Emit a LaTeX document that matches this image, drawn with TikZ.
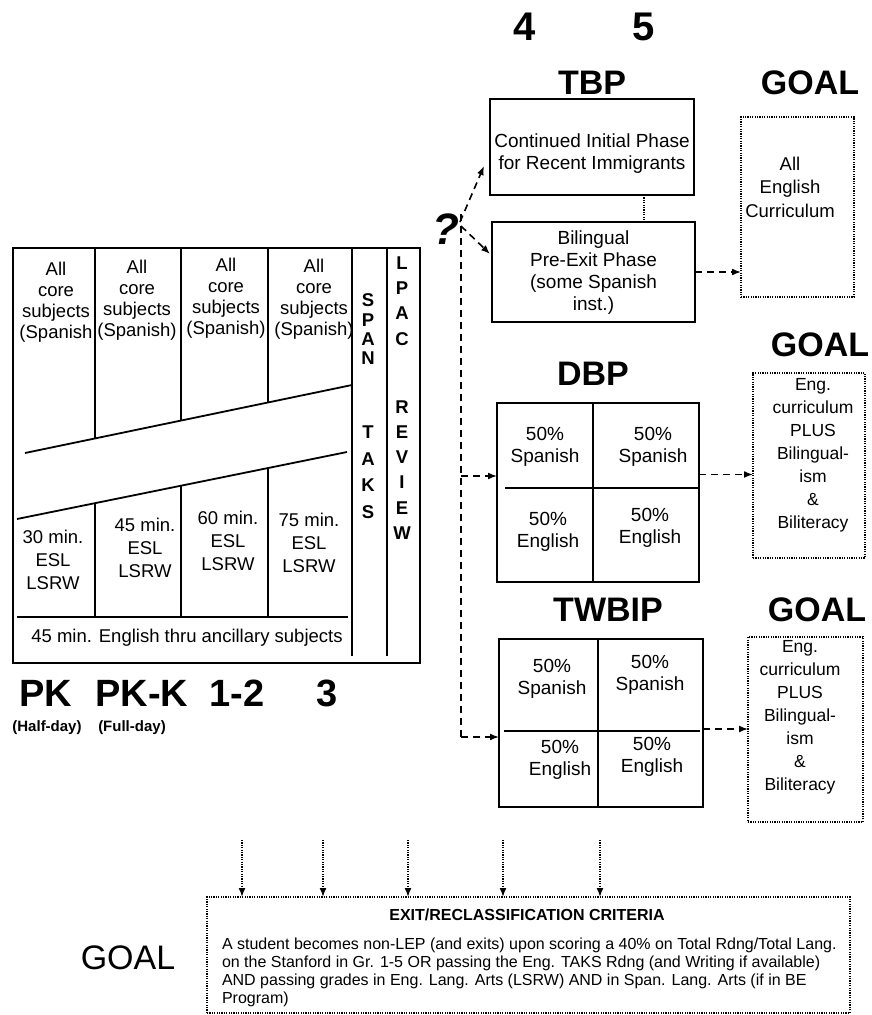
\documentclass[tikz,border=0pt]{standalone}
\usepackage{fontspec}
\setmainfont{Liberation Sans}
\usetikzlibrary{arrows.meta}
\begin{document}
\begin{tikzpicture}[x=1pt,y=-1pt,
  every node/.style={inner sep=0pt, outer sep=0pt},
  solidbox/.style={draw, line width=1.8pt},
  dotbox/.style={draw, line width=1.6pt, dash pattern=on 1.2pt off 1.2pt},
  tline/.style={line width=1.8pt},
  body/.style={font=\fontsize{19}{22}\selectfont, align=center},
  tabtxt/.style={font=\fontsize{18.5}{21}\selectfont, align=center},
  tabtxtb/.style={font=\fontsize{18.5}{23}\selectfont, align=center},
  goaltxt/.style={font=\fontsize{17.5}{23}\selectfont, align=center},
  titletxt/.style={font=\fontsize{34}{36}\selectfont\bfseries},
  digit/.style={font=\fontsize{40}{42}\selectfont\bfseries},
  grade/.style={font=\fontsize{38}{40}\selectfont\bfseries},
  vlet/.style={font=\fontsize{18.5}{18}\selectfont\bfseries},
  smalllab/.style={font=\fontsize{15}{16}\selectfont\bfseries},
  dashline/.style={line width=1.6pt, dash pattern=on 7pt off 5pt},
  dasharrow/.style={dashline, -{Latex[length=9pt,width=7pt]}},
  dotarrow/.style={line width=1.6pt, dash pattern=on 1.2pt off 1.2pt, -{Latex[length=9pt,width=7pt]}},
]
\useasboundingbox (0,0) rectangle (872,1015);

% ---------------- left table ----------------
\node[solidbox, anchor=north west, minimum width=407pt, minimum height=415pt] (tbl) at (13,248) {};
\draw[tline] (95,248) -- (95,438);
\draw[tline] (181,248) -- (181,420);
\draw[tline] (268,248) -- (268,402);
\draw[tline] (25,453) -- (352,385);
\draw[tline] (17,519) -- (347,452);
\draw[tline] (95,503) -- (95,617);
\draw[tline] (181,486) -- (181,617);
\draw[tline] (268,469) -- (268,617);
\draw[tline] (17,617) -- (348,617);
\draw[tline] (352,248) -- (352,656);
\draw[tline] (387,248) -- (387,656);

\node[tabtxt] (c1) at (56,302) {All\\core\\subjects\\(Spanish};
\node[tabtxt] (c2) at (137,300) {All\\core\\subjects\\(Spanish)};
\node[tabtxt] (c3) at (226,298) {All\\core\\subjects\\(Spanish)};
\node[tabtxt] (c4) at (314,299) {All\\core\\subjects\\(Spanish)};

\node[tabtxtb] (e1) at (53,560) {30 min.\\ESL\\LSRW};
\node[tabtxtb] (e2) at (145,548) {45 min.\\ESL\\LSRW};
\node[tabtxtb] (e3) at (228,541) {60 min.\\ESL\\LSRW};
\node[tabtxtb] (e4) at (309,543) {75 min.\\ESL\\LSRW};

\node[font=\fontsize{18.5}{21}\selectfont] (anc) at (187,638) {45 min. English thru ancillary subjects};

\foreach \l/\y [count=\i] in {S/300,P/320,A/339,N/358,T/432,A/459,K/485,S/512}
  \node[vlet] (sp\i) at (368,\y) {\l};
\foreach \l/\y [count=\i] in {L/263,P/288,A/313,C/339,R/407,E/432,V/457,I/482,E/508,W/533}
  \node[vlet] (lp\i) at (402,\y) {\l};

\node[grade] (pk) at (46,693) {PK};
\node[grade] (pkk) at (142,693) {PK-K};
\node[grade] (g12) at (237,693) {1-2};
\node[grade] (g3) at (327,693) {3};
\node[smalllab] (half) at (47,728) {(Half-day)};
\node[smalllab] (full) at (132,728) {(Full-day)};

% ---------------- top numbers and titles ----------------
\node[digit] (n4) at (525,27) {4};
\node[digit] (n5) at (644,27) {5};
\node[titletxt] (ttbp) at (592,83) {TBP};
\node[titletxt] (tgoal1) at (810,83) {GOAL};

% TBP boxes
\node[solidbox, minimum width=204pt, minimum height=96pt] (tbp1) at (592,147) {};
\node[body] (tbp1t) at (592,154) {Continued Initial Phase\\for Recent Immigrants};
\node[solidbox, minimum width=203pt, minimum height=100pt] (tbp2) at (593.5,272) {};
\node[body] (tbp2t) at (593.5,273) {Bilingual\\Pre-Exit Phase\\(some Spanish\\inst.)};
\draw[line width=1.6pt, dash pattern=on 1.2pt off 1.2pt] ([xshift=52pt]tbp1.south) -- ([xshift=52pt]tbp1.south |- tbp2.north);

\node[dotbox, minimum width=113pt, minimum height=180pt] (g1) at (797.5,207) {};
\node[goaltxt, font=\fontsize{18.5}{23.5}\selectfont] (g1t) at (790,187) {All\\English\\Curriculum};
\draw[dasharrow] (tbp2.east) -- (tbp2.east -| g1.west);

% question mark and branching
\node[font=\fontsize{44}{44}\selectfont\bfseries\itshape] (qm) at (446,229) {?};
\coordinate (vt) at (461,214);
\coordinate (vb) at (461,737);
\draw[dashline] (vt) -- (vb);
\coordinate (q1) at (460,222);
\coordinate (q2) at (461,226);
\draw[dasharrow] (q1) -- ([xshift=-6pt,yshift=-19pt]tbp1.west);
\draw[dasharrow] (q2) -- ([xshift=-2pt,yshift=18pt]tbp2.west);

% ---------------- DBP ----------------
\node[titletxt] (tdbp) at (593,374) {DBP};
\node[titletxt] (tgoal2) at (820,345) {GOAL};
\node[solidbox, minimum width=202pt, minimum height=179pt] (dbp) at (598,492.5) {};
\draw[tline] (593,403) -- (593,582);
\draw[tline] (505,488) -- (699,488);
\node[body] (d1) at (545,447) {50\%\\Spanish};
\node[body] (d2) at (653,447) {50\%\\Spanish};
\node[body] (d3) at (548,532) {50\%\\English};
\node[body] (d4) at (650,528) {50\%\\English};
\coordinate (vd) at (461,476);
\draw[dasharrow] (vd) -- (vd -| dbp.west);
\node[dotbox, minimum width=112pt, minimum height=185pt] (g2) at (809,465.5) {};
\node[goaltxt] (g2t) at (813,455) {Eng.\\curriculum\\PLUS\\Bilingual-\\ism\\\&\\Biliteracy};
\draw[dasharrow] ([yshift=18pt]dbp.east) -- ([yshift=18pt]dbp.east -| g2.west);

% ---------------- TWBIP ----------------
\node[titletxt] (ttw) at (608,610) {TWBIP};
\node[titletxt] (tgoal3) at (817,610) {GOAL};
\node[solidbox, minimum width=204pt, minimum height=168pt] (tw) at (601,723) {};
\draw[tline] (598,639) -- (598,807);
\draw[tline] (504,731) -- (700,731);
\node[body] (w1) at (552,679) {50\%\\Spanish};
\node[body] (w2) at (650,675) {50\%\\Spanish};
\node[body] (w3) at (560,760) {50\%\\English};
\node[body] (w4) at (652,757) {50\%\\English};
\draw[dasharrow] (vb) -- (vb -| tw.west);
\node[dotbox, minimum width=115pt, minimum height=185pt] (g3b) at (805.5,729.5) {};
\node[goaltxt] (g3t) at (800,717.5) {Eng.\\curriculum\\PLUS\\Bilingual-\\ism\\\&\\Biliteracy};
\draw[dasharrow] ([yshift=-6pt]tw.east) -- ([yshift=-6pt]tw.east -| g3b.west);

% ---------------- exit box ----------------
\node[dotbox, minimum width=643pt, minimum height=116pt] (exitb) at (528.5,955) {};
\node[font=\fontsize{16}{18}\selectfont\bfseries] (exith) at (527,915) {EXIT/RECLASSIFICATION CRITERIA};
\node[font=\fontsize{16}{18}\selectfont, align=left, anchor=west] (exitt) at (222,972) {A student becomes non-LEP (and exits) upon scoring a 40\% on Total Rdng/Total Lang.\\on the Stanford in Gr. 1-5 OR passing the Eng. TAKS Rdng (and Writing if available)\\AND passing grades in Eng. Lang. Arts (LSRW) AND in Span. Lang. Arts (if in BE\\Program)};
\foreach \x [count=\i] in {242,323,408,503,600} {
  \coordinate (b\i) at (\x,840);
  \draw[dotarrow] (b\i) -- (b\i |- exitb.north);
}
\node[font=\fontsize{34}{36}\selectfont] (goal4) at (128,958) {GOAL};
\end{tikzpicture}
\end{document}
